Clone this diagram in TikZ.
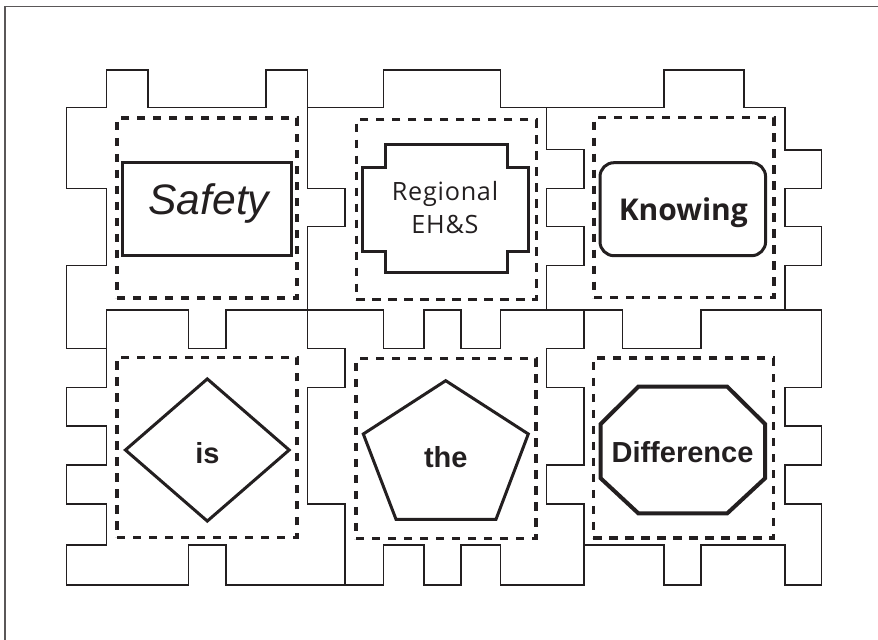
\documentclass[tikz,border=0pt]{standalone}
\usepackage{fontspec}
\setmainfont{Liberation Sans}
\newfontfamily\myriad{Open Sans}
\newfontfamily\myriadwide[LetterSpace=3]{Open Sans}
\usetikzlibrary{shapes.geometric}
\definecolor{ink}{RGB}{35,31,32}

\begin{document}
\begin{tikzpicture}[x=0.5pt, y=-0.5pt,
  piece/.style={draw=ink, line width=0.65pt},
  dashbox/.style={draw=ink, line width=1.55pt, dash pattern=on 4.2pt off 3.8pt,
    minimum width=90pt, minimum height=90pt, inner sep=0pt},
  shapeline/.style={draw=ink, line width=1.5pt, inner sep=0pt},
  word/.style={text=ink, inner sep=0pt, anchor=base}]
\useasboundingbox (0,0) rectangle (878,640);

% frame
\draw[piece, draw=ink!75] (878,6.3) -- (5,6.3) -- (5,640);

% puzzle outline
\draw[piece] (66.7,107.7) -- (106.7,107.7) -- (106.7,70) -- (148,70) -- (148,107.7)
  -- (266,107.7) -- (266,70) -- (307.3,70) -- (307.3,107.7) -- (383.3,107.7)
  -- (383.3,70) -- (500.7,70) -- (500.7,107.7) -- (664,107.7) -- (664,70)
  -- (744,70) -- (744,107.7) -- (785,107.7) -- (785,150) -- (821.7,150)
  -- (821.7,188.5) -- (785,188.5) -- (785,226.7) -- (821.7,226.7) -- (821.7,265.3)
  -- (785,265.3) -- (785,310) -- (821.7,310) -- (821.7,387.3) -- (785,387.3)
  -- (785,426) -- (821.7,426) -- (821.7,465) -- (785,465) -- (785,504)
  -- (821.7,504) -- (821.7,585) -- (785,585) -- (785,545) -- (701,545)
  -- (701,585) -- (664,585) -- (664,545) -- (584,545) -- (584,585)
  -- (500.7,585) -- (500.7,545) -- (461,545) -- (461,585) -- (424,585)
  -- (424,545) -- (383.3,545) -- (383.3,585) -- (226,585) -- (226,545)
  -- (188.3,545) -- (188.3,585) -- (66.7,585) -- (66.7,545) -- (106.7,545)
  -- (106.7,504) -- (66.7,504) -- (66.7,465) -- (106.7,465) -- (106.7,426)
  -- (66.7,426) -- (66.7,387.3) -- (106.7,387.3) -- (106.7,348.3) -- (66.7,348.3)
  -- (66.7,265.3) -- (106.7,265.3) -- (106.7,188.5) -- (66.7,188.5) -- cycle;

% seams between the pieces
\draw[piece] (106.7,348.3) -- (106.7,310) -- (188.3,310) -- (188.3,348.3) -- (226,348.3)
  -- (226,310) -- (383.3,310) -- (383.3,348.3) -- (424,348.3) -- (424,310)
  -- (461,310) -- (461,348.3) -- (500.7,348.3) -- (500.7,310) -- (622.7,310)
  -- (622.7,348.3) -- (701,348.3) -- (701,310) -- (785,310);
\draw[piece] (307.3,107.7) -- (307.3,188.5) -- (345,188.5) -- (345,226.7) -- (307.3,226.7)
  -- (307.3,348.3) -- (345,348.3) -- (345,387.3) -- (307.3,387.3) -- (307.3,504)
  -- (345,504) -- (345,585);
\draw[piece] (546.7,107.7) -- (546.7,149.5) -- (584,149.5) -- (584,188.5) -- (546.7,188.5)
  -- (546.7,226.7) -- (584,226.7) -- (584,265.3) -- (546.7,265.3) -- (546.7,310);
\draw[piece] (584,310) -- (584,348.3) -- (546.7,348.3) -- (546.7,387.3) -- (584,387.3)
  -- (584,465) -- (546.7,465) -- (546.7,504) -- (584,504) -- (584,545);

% dashed frames
\foreach \n/\x/\y in {safe/207/208, ehs/446.3/209.7, know/684/207.7,
    is/207/447.3, the/446/448.8, diff/683.3/448}
  \node[dashbox] (\n box) at (\x,\y) {};

% shapes
\node[shapeline, minimum width=84.2pt, minimum height=46.7pt] (safe shape) at (206.8,209) {};
\draw[shapeline] (385,145) -- (507.7,145) -- (507.7,167.3) -- (528.3,167.3) -- (528.3,251.7)
  -- (507.7,251.7) -- (507.7,272.7) -- (385,272.7) -- (385,251.7) -- (362.7,251.7)
  -- (362.7,167.3) -- (385,167.3) -- cycle;
\node[shapeline, rounded corners=7pt, minimum width=82.8pt, minimum height=46.5pt] (know shape) at (682.8,209.2) {};
\node[shapeline, diamond, minimum width=82.5pt, minimum height=71.7pt] (is shape) at (207.3,450) {};
\draw[shapeline] (445.7,380.7) -- (528.3,434) -- (496,519.3) -- (396,519.3) -- (363.3,434) -- cycle;
\draw[shapeline, line width=2pt] (638.3,386.7) -- (727.3,386.7) -- (765,424) -- (765,478.3)
  -- (727.3,513.3) -- (638.3,513.3) -- (600.7,478.3) -- (600.7,424) -- cycle;

% words
\node[word, font=\itshape\fontsize{21.3}{25}\selectfont] (safety) at (208.8,214.3) {Safety};
\node[text=ink, inner sep=0pt, align=center, font=\myriadwide\fontsize{12.6}{16.7}\selectfont] (regional) at (445,207.5) {Regional\\EH\&S};
\node[word, font=\myriad\bfseries\fontsize{15}{18}\selectfont] (knowing) at (683.3,220.7) {Knowing};
\node[word, font=\bfseries\fontsize{14.5}{17}\selectfont] (is) at (207.5,463.3) {is};
\node[word, font=\bfseries\fontsize{14.5}{17}\selectfont] (the) at (445.8,467.3) {the};
\node[word, font=\bfseries\fontsize{14.5}{17}\selectfont] (difference) at (682.5,462.7) {Difference};
\end{tikzpicture}
\end{document}
